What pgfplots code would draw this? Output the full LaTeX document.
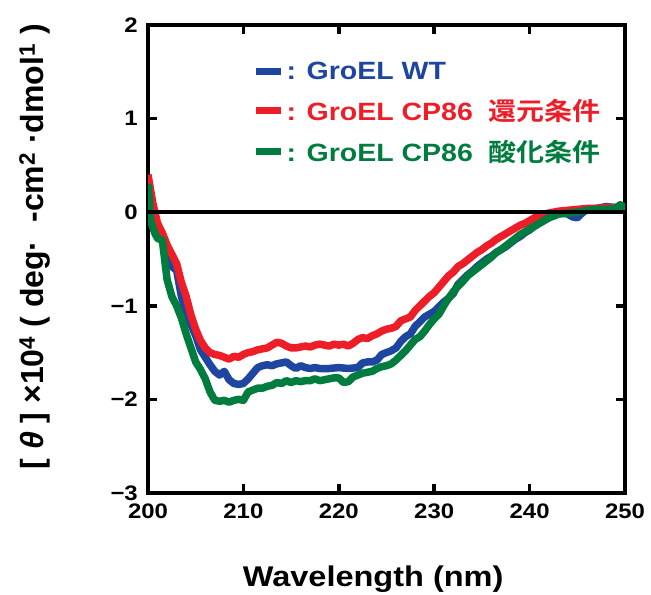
\documentclass[border=0pt]{standalone}
\usepackage{fontspec}
\setmainfont{Liberation Sans}[FakeStretch=1.14]
\newfontfamily\ylab{Liberation Sans}
\newfontfamily\cjk{Noto Sans CJK JP}[BoldFont={* Bold}, FakeStretch=1.12]
\usepackage{pgfplots}
\pgfplotsset{compat=1.18}

\definecolor{wtblue}{RGB}{30,70,160}
\definecolor{redred}{RGB}{238,30,40}
\definecolor{oxgreen}{RGB}{0,125,62}

\pgfplotstableread{
x y
200.0 0.35
200.5 0.05
201.0 -0.15
201.5 -0.25
202.0 -0.40
202.5 -0.58
203.0 -0.62
203.5 -0.90
204.0 -1.08
204.5 -1.20
205.0 -1.32
205.5 -1.47
206.0 -1.55
206.5 -1.63
207.0 -1.70
207.5 -1.74
208.0 -1.70
208.5 -1.79
209.0 -1.83
209.5 -1.84
210.0 -1.83
210.5 -1.78
211.0 -1.72
211.5 -1.66
212.0 -1.64
212.5 -1.63
213.0 -1.64
213.5 -1.62
214.0 -1.61
214.5 -1.60
215.0 -1.64
215.5 -1.67
216.0 -1.64
216.5 -1.66
217.0 -1.67
217.5 -1.66
218.0 -1.67
219.0 -1.67
220.0 -1.66
221.0 -1.67
222.0 -1.66
222.5 -1.61
223.0 -1.60
223.5 -1.60
224.0 -1.58
224.5 -1.52
225.0 -1.50
225.5 -1.48
226.0 -1.45
226.5 -1.38
227.0 -1.33
227.5 -1.30
228.0 -1.22
228.5 -1.17
229.0 -1.12
229.5 -1.09
230.0 -1.06
230.5 -1.01
231.0 -0.96
231.5 -0.92
232.0 -0.87
232.5 -0.77
233.0 -0.72
233.5 -0.67
234.0 -0.63
234.5 -0.58
235.0 -0.54
235.5 -0.50
236.0 -0.47
236.5 -0.43
237.0 -0.40
237.5 -0.37
238.0 -0.33
238.5 -0.29
239.0 -0.26
239.5 -0.22
240.0 -0.19
240.5 -0.15
241.0 -0.12
241.5 -0.09
242.0 -0.06
242.5 -0.04
243.0 -0.02
243.5 -0.01
244.0 -0.02
244.5 -0.05
245.0 -0.06
245.5 -0.01
246.0 0.03
247.0 0.04
248.0 0.06
249.0 0.05
250.0 0.05
}\wt

\pgfplotstableread{
x y
200.0 0.40
200.5 0.10
201.0 -0.12
201.5 -0.22
202.0 -0.35
202.5 -0.45
203.0 -0.55
203.5 -0.75
204.0 -0.90
204.5 -1.10
205.0 -1.25
205.5 -1.37
206.0 -1.45
206.5 -1.50
207.0 -1.52
207.5 -1.53
208.0 -1.55
208.5 -1.57
209.0 -1.54
209.5 -1.55
210.0 -1.52
210.5 -1.50
211.0 -1.49
211.5 -1.47
212.0 -1.46
212.5 -1.45
213.0 -1.42
213.5 -1.39
214.0 -1.40
214.5 -1.43
215.0 -1.45
215.5 -1.45
216.0 -1.44
216.5 -1.43
217.0 -1.44
217.5 -1.42
218.0 -1.41
218.5 -1.42
219.0 -1.43
219.5 -1.41
220.0 -1.42
220.5 -1.41
221.0 -1.43
221.5 -1.40
222.0 -1.36
222.5 -1.34
223.0 -1.35
223.5 -1.32
224.0 -1.30
224.5 -1.27
225.0 -1.25
225.5 -1.24
226.0 -1.22
226.5 -1.16
227.0 -1.14
227.5 -1.12
228.0 -1.05
228.5 -1.00
229.0 -0.95
229.5 -0.90
230.0 -0.86
230.5 -0.80
231.0 -0.74
231.5 -0.68
232.0 -0.64
232.5 -0.58
233.0 -0.55
233.5 -0.51
234.0 -0.47
234.5 -0.43
235.0 -0.40
235.5 -0.36
236.0 -0.33
236.5 -0.29
237.0 -0.26
237.5 -0.23
238.0 -0.20
238.5 -0.17
239.0 -0.14
239.5 -0.12
240.0 -0.09
240.5 -0.06
241.0 -0.04
241.5 -0.02
242.0 -0.01
243.0 0.01
244.0 0.02
245.0 0.03
246.0 0.04
247.0 0.04
248.0 0.05
249.0 0.05
250.0 0.05
}\red

\pgfplotstableread{
x y
200.0 0.30
200.3 -0.10
200.7 -0.22
201.0 -0.28
201.5 -0.30
202.0 -0.72
202.5 -0.90
203.0 -1.00
203.5 -1.13
204.0 -1.30
204.5 -1.45
205.0 -1.60
205.5 -1.68
206.0 -1.78
206.5 -1.92
207.0 -2.01
207.5 -2.02
208.0 -2.01
208.5 -2.03
209.0 -2.01
209.5 -2.00
210.0 -2.01
210.5 -1.92
211.0 -1.90
211.5 -1.88
212.0 -1.88
212.5 -1.86
213.0 -1.85
213.5 -1.82
214.0 -1.83
214.5 -1.80
215.0 -1.82
215.5 -1.80
216.0 -1.81
216.5 -1.80
217.0 -1.80
217.5 -1.78
218.0 -1.80
218.5 -1.79
219.0 -1.78
219.5 -1.77
220.0 -1.77
220.5 -1.82
221.0 -1.81
221.5 -1.76
222.0 -1.74
222.5 -1.72
223.0 -1.71
223.5 -1.70
224.0 -1.67
224.5 -1.65
225.0 -1.64
225.5 -1.62
226.0 -1.58
226.5 -1.53
227.0 -1.48
227.5 -1.42
228.0 -1.36
228.5 -1.33
229.0 -1.27
229.5 -1.20
230.0 -1.14
230.5 -1.09
231.0 -1.00
231.5 -0.92
232.0 -0.85
232.5 -0.79
233.0 -0.74
233.5 -0.68
234.0 -0.64
234.5 -0.60
235.0 -0.56
235.5 -0.52
236.0 -0.48
236.5 -0.43
237.0 -0.40
237.5 -0.36
238.0 -0.32
238.5 -0.28
239.0 -0.24
239.5 -0.21
240.0 -0.18
240.5 -0.15
241.0 -0.12
241.5 -0.09
242.0 -0.06
242.5 -0.04
243.0 -0.02
244.0 -0.01
245.0 0.00
246.0 0.02
247.0 0.03
248.0 0.03
249.0 0.04
249.5 0.08
250.0 0.05
}\ox

\begin{document}
\begin{tikzpicture}
\begin{axis}[
    name=ax,
    scale only axis,
    width=477bp, height=468bp,
    xmin=200, xmax=250, ymin=-3, ymax=2,
    xtick={200,210,...,250},
    ytick={-3,-2,-1,0,1,2},
    yticklabels={−3,−2,−1,0,1,2},
    tick align=inside,
    major tick length=9bp,
    axis line style={line width=4bp},
    every tick/.style={black, line width=3.5bp},
    /pgf/number format/assume math mode=true,
    ticklabel style={font=\fontsize{21bp}{24bp}\selectfont\bfseries, inner sep=1bp},
    xticklabel style={yshift=-10bp},
    yticklabel style={xshift=-9bp},
    xlabel={Wavelength (nm)},
    ylabel={[ {\itshape θ} ] ×10\textsuperscript{4} ( deg·\ \ -cm\textsuperscript{2} ·dmol\textsuperscript{1} )},
    xlabel style={font=\fontsize{28.5bp}{32bp}\selectfont\bfseries,
      at={(axis description cs:0.472,-0.185)}, anchor=center},
    ylabel style={font=\ylab\fontsize{32bp}{36bp}\selectfont\bfseries,
      at={(axis description cs:-0.237,0.526)}, anchor=center},
    legend style={draw=none, fill=none, at={(0.2125,0.93)}, anchor=north west,
      font=\fontsize{25bp}{28bp}\selectfont\bfseries, row sep=14bp,
      /tikz/every even column/.append style={column sep=0bp}},
    legend cell align=left,
    legend image code/.code={\draw[#1, line width=7bp] (0bp,0bp) -- (25bp,0bp);},
]
\addplot[wtblue, line width=7.5bp, line join=round] table {\wt};
\addlegendentry{\textcolor{wtblue}{: GroEL WT}}
\addplot[redred, line width=7.5bp, line join=round] table {\red};
\addlegendentry{\textcolor{redred}{: GroEL CP86\ \ {\cjk 還元条件}}}
\addplot[oxgreen, line width=7.5bp, line join=round] table {\ox};
\addlegendentry{\textcolor{oxgreen}{: GroEL CP86\ \ {\cjk 酸化条件}}}
\addplot[black, line width=3.5bp, forget plot] coordinates {(200,0) (250,0)};
\end{axis}
\pgfresetboundingbox
\path ([shift={(-148bp,-102bp)}]ax.south west) rectangle ([shift={(26bp,25bp)}]ax.north east);
\end{tikzpicture}
\end{document}
